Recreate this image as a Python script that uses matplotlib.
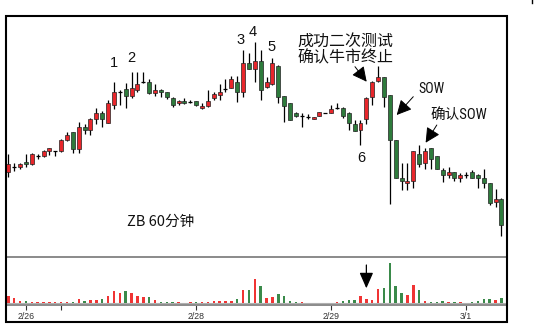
import matplotlib
matplotlib.use("Agg")
import matplotlib.pyplot as plt
from matplotlib.patches import Rectangle
from matplotlib.lines import Line2D
from matplotlib import font_manager
import numpy as np

# ZB 60-minute bars (price in chart points)
opens = [87.7, 92.7, 92.7, 98, 96, 104, 104, 108.7, 109, 109,
         120, 127.7, 111, 132.7, 130, 140.7, 146.7, 137.3, 155, 167.7,
         170.7, 164.3, 170, 178.3, 178.3, 166.7, 170, 167.7, 162.3, 156.7,
         159.3, 157.7, 159.3, 151.7, 154.3, 162.3, 165, 170.7, 172.3, 178.3,
         167.7, 197.3, 191, 199.3, 172.7, 175.7, 194.3, 164.3, 156.7, 146.7,
         144.3, 143.3, 141, 144.3, 146.7, 147.3, 151.7, 151.7, 147.3, 136,
         130, 140.7, 163.3, 179, 183.3, 165, 120, 82.3, 77.3, 79.3,
         105.7, 96.7, 111.7, 104, 90, 85, 87.7, 82.3, 85, 87.7,
         85, 82.3, 76.7, 58.3, 61]
highs = [106, 97, 97.3, 105.7, 106.7, 106.3, 110, 112.3, 109, 120.7,
         128.3, 127.7, 138, 136, 141.7, 152.3, 149.3, 160, 178.3, 170,
         176.7, 188.3, 188.3, 188.3, 180.7, 175.7, 170.7, 168.3, 163.3, 160,
         162.3, 160, 159.3, 156.7, 170, 168.3, 175.7, 180.7, 184, 184,
         210, 207.3, 218.3, 210, 183.3, 201.7, 195, 164.3, 156.7, 148.3,
         146.7, 145.7, 143.3, 148.3, 146.7, 155, 156.7, 153.3, 148.3, 140,
         140, 163.3, 179, 194.3, 183.3, 165, 120, 96.7, 96.7, 109,
         115, 111.7, 112.3, 104, 91.7, 93.3, 88.3, 86.7, 88.3, 90,
         85.7, 91, 76.7, 71, 62.3]
lows = [83.3, 89.3, 90.7, 93.3, 95, 101.3, 103.3, 104.7, 104, 108.3,
        119.3, 106.7, 106.7, 126, 125, 136, 133.3, 136.7, 150.7, 155,
        152.3, 161.7, 168.3, 176.7, 165.7, 164.3, 163.3, 161, 152.7, 155,
        156, 156.7, 154.3, 151, 152.7, 160, 160, 168.3, 171.7, 157.7,
        162.7, 191, 178.3, 160, 171.7, 175, 157.3, 138.3, 140, 143.3,
        133.3, 141, 141, 144.3, 146.7, 146.7, 151, 141.7, 130, 129,
        115, 136, 155, 178.3, 153.3, 56, 81.7, 70, 70, 71.7,
        92.7, 91, 91, 90.7, 78.3, 81.7, 79, 77.7, 81.7, 81.7,
        71.7, 71.7, 55, 53.3, 24.3]
closes = [95.7, 92.7, 95.7, 95.7, 105.7, 104, 109, 111.7, 109, 120,
          125, 111, 132.7, 130, 140.7, 146.7, 140.7, 156.7, 167.7, 167.7,
          164.3, 172.3, 175.7, 178.3, 166.7, 170, 167.7, 162.7, 155, 159.3,
          157.3, 157.7, 155, 154.3, 159.3, 165.7, 167.7, 170.7, 180.7, 167.7,
          197.3, 191, 199.3, 170, 178.3, 197.3, 163.3, 154, 140, 144.3,
          144.3, 143.3, 143.3, 148.3, 146.7, 151, 151.7, 144, 137.3, 129.3,
          137.3, 162.3, 178.3, 183.3, 163.3, 120, 81.7, 79.3, 79.3, 109,
          95.7, 109.3, 100.7, 90.7, 85, 87.7, 82.3, 85, 85, 82.3,
          82.3, 76.7, 57.3, 61, 35]
volume = [6700, 5000, 2000, 1700, 700, 700, 700, 700, 700, 700,
          700, 700, 3700, 2300, 2700, 2700, 3700, 7300, 12300, 10000,
          11700, 10000, 7300, 5700, 5700, 3000, 700, 700, 700, 700,
          300, 700, 700, 700, 700, 2300, 1700, 1700, 1700, 3700,
          13000, 12700, 23700, 16700, 5500, 6000, 9000, 7000, 2500, 800,
          800, 0, 0, 0, 0, 300, 1000, 2300, 3300, 2700,
          7000, 4300, 3300, 14300, 15000, 40000, 17300, 10000, 8300, 17700,
          12700, 2300, 1000, 1000, 1700, 1000, 1000, 1000, 0, 1000,
          2000, 4000, 4000, 2700, 5300]
date_ticks = [3, 9, 32, 55, 78]
date_labels = ["2/26", "", "2/28", "2/29", "3/1"]

UP = "#e8262b"
DOWN = "#2e7b3c"
VUP = "#f03434"
VDOWN = "#3a8a4a"

W, H = 535, 332
fig = plt.figure(figsize=(W / 100, H / 100), dpi=100)
fig.patch.set_facecolor("white")


def fx(px):
    return px / W


def fy(py):
    return 1 - py / H


left, right = 5.7, 506.7
ax = fig.add_axes([fx(left), fy(256.7), (right - left) / W, (256.7 - 16) / H])
axv = fig.add_axes([fx(left), fy(305), (right - left) / W, (305 - 256.7) / H])

o = np.array(opens)
h = np.array(highs)
l = np.array(lows)
c = np.array(closes)
n = len(o)
idx = np.arange(n)

# wicks
ax.vlines(idx, l, h, color="black", lw=0.9, zorder=1)

# bodies
body_w = 0.68
doji = np.isclose(o, c)
up = (c > o) & ~doji
dn = (c < o) & ~doji
for mask, col in ((up, UP), (dn, DOWN)):
    ax.bar(idx[mask], np.abs(c - o)[mask], bottom=np.minimum(o, c)[mask],
           width=body_w, color=col, edgecolor="#222222", linewidth=0.5, zorder=2)
ax.hlines(c[doji], idx[doji] - body_w / 2, idx[doji] + body_w / 2,
          color="black", lw=0.9, zorder=2)

ax.set_xlim(-0.443, 84.907)
ax.set_ylim(3.3, 244)
ax.set_xticks([])
ax.set_yticks([])
for s in ax.spines.values():
    s.set_visible(False)

# volume
vcols = [VDOWN if cc < oo else VUP for oo, cc in zip(opens, closes)]
axv.bar(idx, volume, width=0.42, color=vcols, zorder=2)
axv.axhline(0, color="#b0b0b0", lw=0.8, zorder=1)
axv.set_xlim(-0.443, 84.907)
axv.set_ylim(-2000, 46300)
axv.set_yticks([])
axv.set_xticks(date_ticks)
axv.set_xticklabels(date_labels, fontsize=6.3, color="#333333",
                    family=["Liberation Sans", "DejaVu Sans"])
axv.tick_params(axis="x", direction="out", length=3.6, width=0.8,
                color="#333333", pad=1.5)
for side in ("left", "right"):
    axv.spines[side].set_visible(False)
for side in ("top", "bottom"):
    axv.spines[side].set_color("#8a8a8a")
    axv.spines[side].set_linewidth(1.4)

# outer frame
fig.add_artist(Rectangle((fx(left), fy(322.3)), (right - left) / W, (322.3 - 16) / H,
                         transform=fig.transFigure, fill=False, ec="black", lw=1.5))
fig.add_artist(Line2D([fx(531.7), fx(531.7)], [fy(0), fy(3)],
                      transform=fig.transFigure, color="black", lw=1))

cjk = ["Noto Sans CJK SC", "DejaVu Sans"]
num_font = ["Liberation Sans", "DejaVu Sans"]

# a condensed Latin face for the SOW tags, if one is installed
installed = {(f.name, f.stretch) for f in font_manager.fontManager.ttflist}
names = {f.name for f in font_manager.fontManager.ttflist}
narrow_family = None
narrow_stretch = "normal"
for cand in ("Liberation Sans Narrow", "Roboto Condensed", "Open Sans Condensed",
             "Noto Sans Condensed", "DejaVu Sans Condensed"):
    if cand in names:
        narrow_family = cand
        break
if narrow_family is None:
    for name, stretch in installed:
        if name == "DejaVu Sans" and stretch in ("condensed", "semi-condensed"):
            narrow_family = "DejaVu Sans"
            narrow_stretch = "condensed"
            break
if narrow_family is None:
    narrow_family = "Liberation Sans"
narrow = [narrow_family, "Noto Sans CJK SC", "DejaVu Sans"]

# wave labels
for lab, i, dy in (("1", 18, 19), ("2", 21, 13.4), ("3", 39.6, 10),
                   ("4", 41.7, 10), ("5", 44.9, 11.6)):
    base = highs[int(round(i))]
    ax.text(i, base + dy, lab, fontsize=10.5, family=num_font,
            ha="center", va="center", color="#111111")
ax.text(60.2, lows[60] - 13.3, "6", fontsize=10.5, family=num_font,
        ha="center", va="center", color="#111111")

# commentary
ax.text(49.3, 218.3, "成功二次测试", fontsize=11.5, family=cjk,
        ha="left", va="center", color="#111111")
ax.text(49.3, 201.7, "确认牛市终止", fontsize=11.5, family=cjk,
        ha="left", va="center", color="#111111")
ax.text(69.85, 170.7, "SOW", fontsize=10, family=narrow, stretch=narrow_stretch,
        ha="left", va="center", color="#111111")
ax.text(71.84, 145, "确认SOW", fontsize=10.5, family=narrow, stretch=narrow_stretch,
        ha="left", va="center", color="#111111")
ax.text(20.17, 37.7, "ZB 60分钟", fontsize=10.5, family=cjk,
        ha="left", va="center", color="#111111")

arrow_kw = dict(arrowstyle="-|>,head_length=0.75,head_width=0.38",
                color="black", lw=0.7, shrinkA=0, shrinkB=0, mutation_scale=12)
ax.annotate("", xy=(61.05, 178.3), xytext=(59.06, 193.3), arrowprops=arrow_kw)
ax.annotate("", xy=(66.17, 145), xytext=(68.99, 163.3), arrowprops=arrow_kw)
ax.annotate("", xy=(71.1, 117.3), xytext=(73.0, 135), arrowprops=arrow_kw)

axv.annotate("", xy=(61, 14700), xytext=(61, 38000),
             arrowprops=dict(arrowstyle="-|>,head_length=0.8,head_width=0.35",
                             color="black", lw=0.9, shrinkA=0, shrinkB=0,
                             mutation_scale=12))

fig.savefig("out.png", dpi=100, facecolor="white")
